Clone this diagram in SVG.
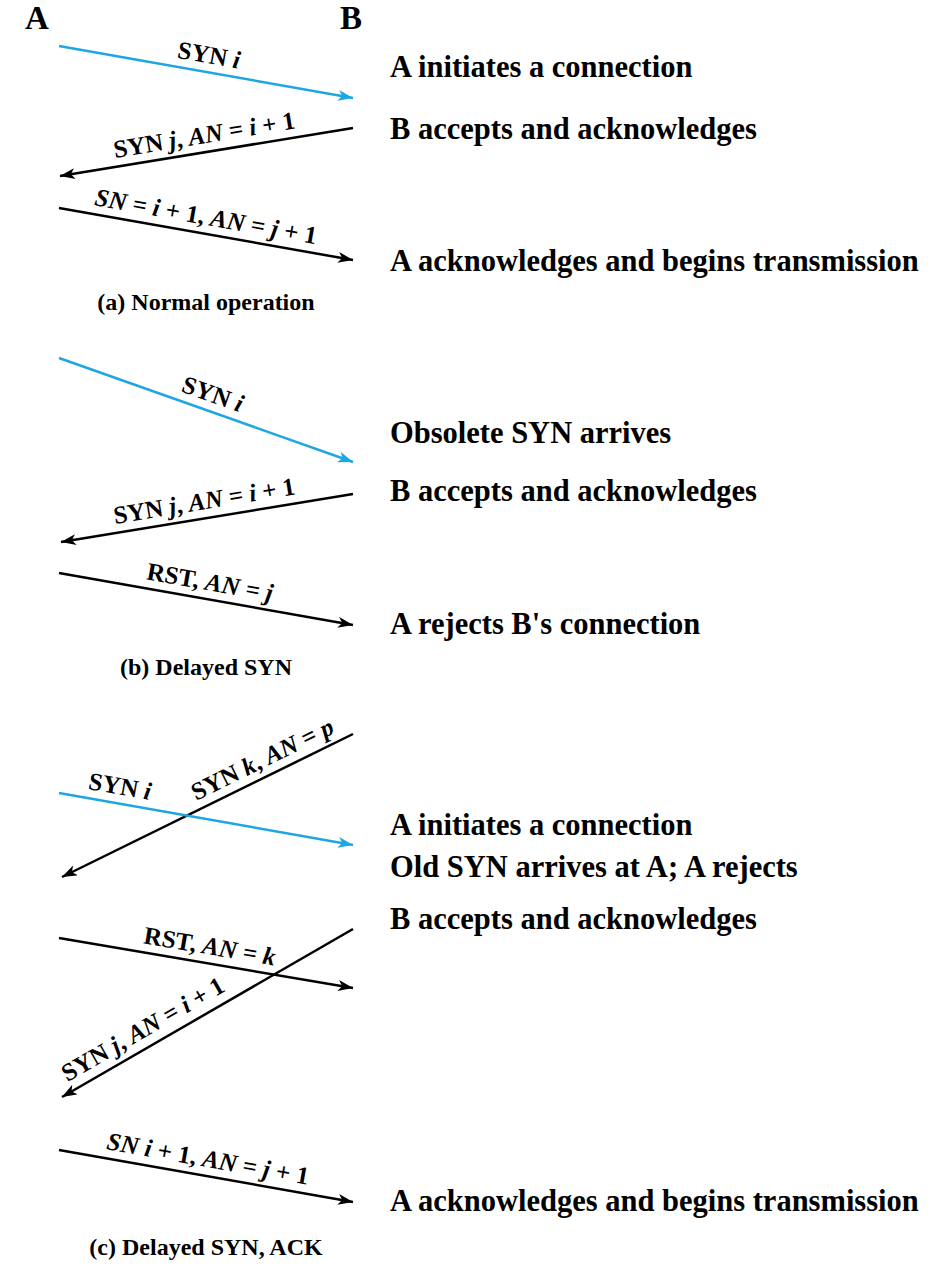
<svg xmlns="http://www.w3.org/2000/svg" width="947" height="1268" viewBox="0 0 947 1268">
<style>
text{font-family:"Liberation Serif","Times New Roman",serif;font-weight:bold;fill:#000}
.hdr{font-size:33px}
.note{font-size:30.5px}
.cap{font-size:24px}
.lbl{font-size:25px;text-anchor:middle}
.it{font-style:italic}
.ln{fill:none;stroke:#000;stroke-width:2.5}
.blue{stroke:#1ea6e2}
</style>
<defs>
<marker id="ah" markerUnits="userSpaceOnUse" markerWidth="18" markerHeight="12" refX="15" refY="5.5" orient="auto">
<path d="M0,0 L15,5.5 L0,11 L4,5.5 Z" fill="#000"/>
</marker>
<marker id="ahb" markerUnits="userSpaceOnUse" markerWidth="18" markerHeight="12" refX="15" refY="5.5" orient="auto">
<path d="M0,0 L15,5.5 L0,11 L4,5.5 Z" fill="#1ea6e2"/>
</marker>
</defs>
<rect width="947" height="1268" fill="#fff"/>
<g id="endpoints">
<text class="hdr" x="25" y="29">A</text>
<text class="hdr" x="340" y="29">B</text>
</g>
<g id="connectors">
<line class="ln blue" x1="59" y1="46" x2="353" y2="98" marker-end="url(#ahb)"/>
<line class="ln" x1="353" y1="128" x2="60" y2="176" marker-end="url(#ah)"/>
<line class="ln" x1="59" y1="208" x2="353" y2="260" marker-end="url(#ah)"/>
<line class="ln blue" x1="59" y1="358" x2="353" y2="462" marker-end="url(#ahb)"/>
<line class="ln" x1="353" y1="494" x2="61" y2="542" marker-end="url(#ah)"/>
<line class="ln" x1="59" y1="573" x2="353" y2="625" marker-end="url(#ah)"/>
<line class="ln" x1="353" y1="734" x2="62" y2="877" marker-end="url(#ah)"/>
<line class="ln blue" x1="59" y1="793" x2="353" y2="845" marker-end="url(#ahb)"/>
<line class="ln" x1="59" y1="938" x2="353" y2="988" marker-end="url(#ah)"/>
<line class="ln" x1="353" y1="929" x2="62" y2="1097" marker-end="url(#ah)"/>
<line class="ln" x1="59" y1="1150" x2="353" y2="1202" marker-end="url(#ah)"/>
</g>
<g id="connector-labels">
<text class="lbl" transform="translate(206,72) rotate(10.03)" y="-9">SYN <tspan class="it">i</tspan></text>
<text class="lbl" transform="translate(207,152) rotate(-9.3)" y="-9">SYN <tspan class="it">j</tspan>, <tspan class="it">AN</tspan> = <tspan class="it">i</tspan> + 1</text>
<text class="lbl" transform="translate(203,233.5) rotate(10.03)" y="-9"><tspan class="it">SN</tspan> = <tspan class="it">i</tspan> + 1, <tspan class="it">AN</tspan> = <tspan class="it">j</tspan> + 1</text>
<text class="lbl" transform="translate(207,410.3) rotate(19.48)" y="-9">SYN <tspan class="it">i</tspan></text>
<text class="lbl" transform="translate(207,518) rotate(-9.33)" y="-9">SYN <tspan class="it">j</tspan>, <tspan class="it">AN</tspan> = <tspan class="it">i</tspan> + 1</text>
<text class="lbl" transform="translate(207,599.2) rotate(10.03)" y="-9">RST, <tspan class="it">AN</tspan> = <tspan class="it">j</tspan></text>
<text class="lbl" transform="translate(270,774.8) rotate(-26.17)" y="-9">SYN <tspan class="it">k</tspan>, <tspan class="it">AN</tspan> = <tspan class="it">p</tspan></text>
<text class="lbl" transform="translate(117,803.3) rotate(10.03)" y="-9">SYN <tspan class="it">i</tspan></text>
<text class="lbl" transform="translate(207,963.2) rotate(9.65)" y="-9">RST, <tspan class="it">AN</tspan> = <tspan class="it">k</tspan></text>
<text class="lbl" transform="translate(152,1045) rotate(-30)" y="-10">SYN <tspan class="it">j</tspan>, <tspan class="it">AN</tspan> = <tspan class="it">i</tspan> + 1</text>
<text class="lbl" transform="translate(205,1175.8) rotate(10.03)" y="-9"><tspan class="it">SN</tspan> <tspan class="it">i</tspan> + 1, <tspan class="it">AN</tspan> = <tspan class="it">j</tspan> + 1</text>
</g>
<g id="panel-a-notes">
<text class="note" x="390" y="77">A initiates a connection</text>
<text class="note" x="390" y="139">B accepts and acknowledges</text>
<text class="note" x="390" y="271">A acknowledges and begins transmission</text>
</g>
<g id="caption-a"><text class="cap" x="206" y="310" text-anchor="middle">(a) Normal operation</text></g>
<g id="panel-b-notes">
<text class="note" x="390" y="443">Obsolete SYN arrives</text>
<text class="note" x="390" y="501">B accepts and acknowledges</text>
<text class="note" x="390" y="634">A rejects B's connection</text>
</g>
<g id="caption-b"><text class="cap" x="206" y="675" text-anchor="middle">(b) Delayed SYN</text></g>
<g id="panel-c-notes">
<text class="note" x="390" y="835">A initiates a connection</text>
<text class="note" x="390" y="877">Old SYN arrives at A; A rejects</text>
<text class="note" x="390" y="929">B accepts and acknowledges</text>
<text class="note" x="390" y="1211">A acknowledges and begins transmission</text>
</g>
<g id="caption-c"><text class="cap" x="206" y="1255" text-anchor="middle">(c) Delayed SYN, ACK</text></g>
</svg>
